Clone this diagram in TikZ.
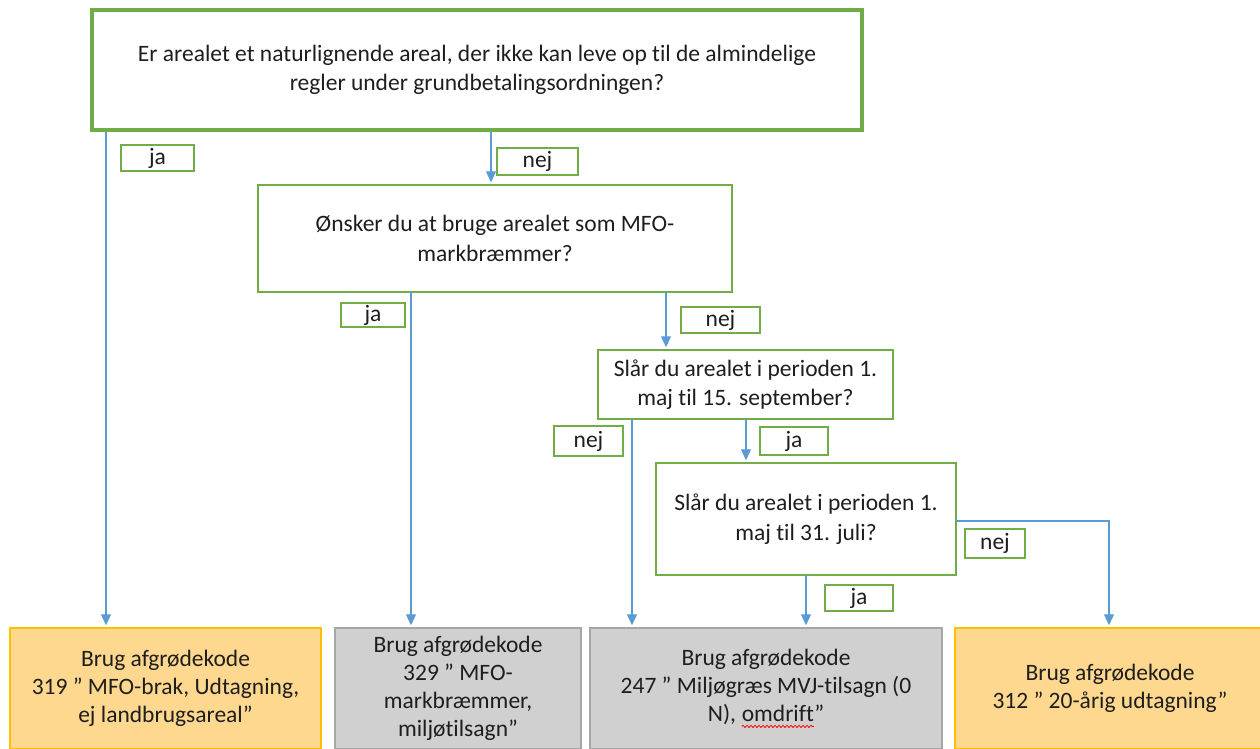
\documentclass[tikz,border=0pt]{standalone}
\usepackage{fontspec}
\setmainfont[RawFeature={-liga,-clig,-calt,-dlig}]{Carlito}
\usetikzlibrary{arrows.meta,decorations.pathmorphing}
\definecolor{qgreen}{HTML}{70AD47}
\definecolor{lblue}{HTML}{5B9BD5}
\definecolor{ofill}{HTML}{FFD88F}
\definecolor{oline}{HTML}{FFC000}
\definecolor{gfill}{HTML}{D0D0D0}
\definecolor{gline}{HTML}{A6A6A6}
\definecolor{txt}{HTML}{1E1E1E}
\newcommand\redwave[1]{\tikz[baseline=(w.base)]{\node[inner sep=0pt, outer sep=0pt, minimum width=0pt, minimum height=0pt, draw=none, fill=none, text=txt] (w) {#1};
  \draw[red, line width=0.8pt, decorate, decoration={snake, amplitude=1.1pt, segment length=4pt}]
    ([yshift=-5pt]w.base west) -- ([yshift=-5pt]w.base east);}}
\begin{document}
\begin{tikzpicture}[x=1pt,y=-1pt,
  every node/.style={font=\fontsize{23.5}{29.5}\selectfont, text=txt, align=center, inner sep=0pt},
  qbox/.style={draw=qgreen, line width=1.5pt, fill=white},
  lbl/.style={draw=qgreen, line width=1.5pt, fill=white},
  obox/.style={draw=oline, line width=1.5pt, fill=ofill},
  gbox/.style={draw=gline, line width=1.5pt, fill=gfill},
  arr/.style={draw=lblue, line width=1.3pt, -{Triangle[width=10pt,length=11pt]}, shorten >=2pt}]
\useasboundingbox (0,0) rectangle (1260,749);
% question boxes
\node[qbox, line width=4pt, minimum width=770pt, minimum height=120pt] (Q1) at (477,70)
  {Er arealet et naturlignende areal, der ikke kan leve op til de almindelige\\regler under grundbetalingsordningen?};
\node[qbox, minimum width=474pt, minimum height=107pt] (Q2) at (495,238.5)
  {Ønsker du at bruge arealet som MFO-\\markbræmmer?};
\node[qbox, minimum width=295pt, minimum height=69pt] (Q3) at (745.5,384.5)
  {Slår du arealet i perioden 1.\\maj til 15. september?};
\node[qbox, minimum width=300pt, minimum height=112pt] (Q4) at (806,519)
  {Slår du arealet i perioden 1.\\maj til 31. juli?};
% result boxes
\node[obox, minimum width=311pt, minimum height=121pt, font=\fontsize{23.5}{28}\selectfont] (B1) at (165.5,688.5)
  {Brug afgrødekode\\319 ” MFO-brak, Udtagning,\\ej landbrugsareal”};
\node[gbox, minimum width=246pt, minimum height=121pt, font=\fontsize{23.5}{28}\selectfont] (B2) at (458,688.5)
  {Brug afgrødekode\\329 ” MFO-\\markbræmmer,\\miljøtilsagn”};
\node[gbox, minimum width=352pt, minimum height=121pt, font=\fontsize{23.5}{28}\selectfont] (B3) at (766,688.5)
  {Brug afgrødekode\\247 ” Miljøgræs MVJ-tilsagn (0\\N), \redwave{omdrift}”};
\node[obox, minimum width=310pt, minimum height=121pt, font=\fontsize{23.5}{28}\selectfont] (B4) at (1110,688.5)
  {Brug afgrødekode\\312 ” 20-årig udtagning”};
% connectors
\coordinate (c1) at (106,132);
\draw[arr] (c1) -- (c1 |- B1.north);
\coordinate (c2) at (491,132);
\draw[arr] (c2) -- (c2 |- Q2.north);
\coordinate (c3) at (411,292);
\draw[arr] (c3) -- (c3 |- B2.north);
\coordinate (c4) at (666,292);
\draw[arr] (c4) -- (c4 |- Q3.north);
\coordinate (c5) at (632,419);
\draw[arr] (c5) -- (c5 |- B3.north);
\coordinate (c6) at (746,419);
\draw[arr] (c6) -- (c6 |- Q4.north);
\coordinate (c7) at (806,575);
\draw[arr] (c7) -- (c7 |- B3.north);
\coordinate (c8) at (956,521);
\coordinate (c9) at (1109,521);
\draw[arr] (c8) -- (c9) -- (c9 |- B4.north);
% labels
\node[lbl, minimum width=73pt, minimum height=26pt] (L1) at (157.5,158) {ja};
\node[lbl, minimum width=81pt, minimum height=27pt] (L2) at (537.5,161.5) {nej};
\node[lbl, minimum width=64pt, minimum height=24pt] (L3) at (373,315) {ja};
\node[lbl, minimum width=79pt, minimum height=26pt] (L4) at (720.5,320) {nej};
\node[lbl, minimum width=69pt, minimum height=30pt] (L5) at (588.5,441) {nej};
\node[lbl, minimum width=68pt, minimum height=28pt] (L6) at (794,441) {ja};
\node[lbl, minimum width=60pt, minimum height=29pt] (L7) at (995,543.5) {nej};
\node[lbl, minimum width=68pt, minimum height=26pt] (L8) at (859,598) {ja};
\end{tikzpicture}
\end{document}
